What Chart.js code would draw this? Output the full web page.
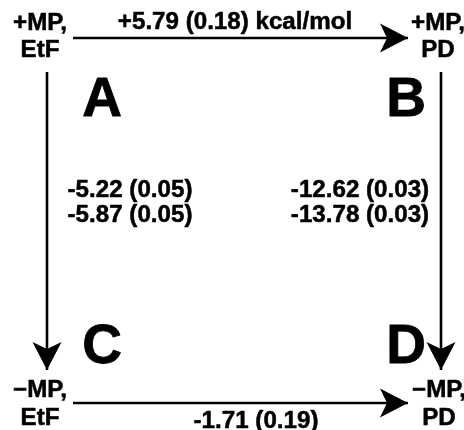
<!DOCTYPE html>
<html>
<head>
<meta charset="utf-8">
<script src="https://cdn.jsdelivr.net/npm/chart.js@4/dist/chart.umd.min.js"></script>
<style>
  html, body { margin: 0; padding: 0; background: #fff; }
  #wrap { width: 464px; height: 430px; }
</style>
</head>
<body>
<div id="wrap"><canvas id="c" width="464" height="430"></canvas></div>
<script>
// ---- data ----
const stateLine1 = ['+MP,', '+MP,', '\u2212MP,', '\u2212MP,'];
const stateLine2 = ['EtF', 'PD', 'EtF', 'PD'];
const cornerLetters = ['A', 'B', 'C', 'D'];
const edgeFrom = [0, 0, 1, 2];
const edgeTo = [1, 2, 3, 3];
const edgeValue1 = [5.79, -5.22, -12.62, -1.71];
const edgeError1 = [0.18, 0.05, 0.03, 0.19];
const edgeValue2 = [null, -5.87, -13.78, null];
const edgeError2 = [null, 0.05, 0.03, null];
const edgeUnit = [' kcal/mol', '', '', ''];

// ---- layout (drawing space in axis units) ----
const L = {
  stateX: [40, 438, 40, 439],
  stateY1: [30, 30, 397, 397],
  stateY2: [57, 57, 425, 425],
  letterX: [102, 406, 102, 406],
  letterY: [116, 116, 363, 363],
  arrowStart: [[73, 38], [47, 72], [441, 72], [73, 403]],
  arrowEnd: [[408, 38], [47, 370], [441, 370], [408, 403]],
  labelX: [235, 130, 360, 256],
  labelY: [29, 197, 197, 428],
  lineGap: 25
};

function fmt(v, e) {
  const s = (v > 0 ? '+' : '') + v.toFixed(2);
  return s + ' (' + e.toFixed(2) + ')';
}

const datasets = edgeFrom.map((f, i) => ({
  label: cornerLetters[f] + '\u2192' + cornerLetters[edgeTo[i]],
  data: [
    { x: L.arrowStart[i][0], y: L.arrowStart[i][1] },
    { x: L.arrowEnd[i][0], y: L.arrowEnd[i][1] }
  ],
  showLine: true,
  borderColor: '#000',
  borderWidth: 2.6,
  pointRadius: 0,
  fill: false
}));

const SMALL = 'bold 23px "Liberation Sans", Arial, sans-serif';
const BIG = 'bold 55px "Liberation Sans", Arial, sans-serif';
const STRETCH = 1.05;

function txt(ctx, s, x, y, font, stretch, stroke) {
  ctx.save();
  ctx.font = font;
  ctx.textAlign = 'center';
  ctx.textBaseline = 'alphabetic';
  ctx.fillStyle = '#000';
  ctx.strokeStyle = '#000';
  ctx.translate(x, y);
  ctx.scale(stretch, 1);
  ctx.fillText(s, 0, 0);
  if (stroke) { ctx.lineWidth = stroke; ctx.lineJoin = 'round'; ctx.strokeText(s, 0, 0); }
  ctx.restore();
}

const diagramPlugin = {
  id: 'diagram',
  afterDatasetsDraw(chart) {
    const ctx = chart.ctx;
    const xs = chart.scales.x, ys = chart.scales.y;
    const px = v => xs.getPixelForValue(v);
    const py = v => ys.getPixelForValue(v);
    // arrowheads at the end of every edge line
    chart.data.datasets.forEach((ds, i) => {
      const pts = chart.getDatasetMeta(i).data;
      const a = pts[0], b = pts[1];
      const ang = Math.atan2(b.y - a.y, b.x - a.x);
      const len = 28, half = 14.5, notch = 21;
      ctx.save();
      ctx.translate(b.x, b.y);
      ctx.rotate(ang);
      ctx.beginPath();
      ctx.moveTo(0, 0);
      ctx.lineTo(-len, -half);
      ctx.lineTo(-notch, 0);
      ctx.lineTo(-len, half);
      ctx.closePath();
      ctx.fillStyle = '#000';
      ctx.fill();
      ctx.restore();
    });
    // state labels
    for (let i = 0; i < 4; i++) {
      txt(ctx, stateLine1[i], px(L.stateX[i]), py(L.stateY1[i]), SMALL, STRETCH, 0.5);
      txt(ctx, stateLine2[i], px(L.stateX[i]), py(L.stateY2[i]), SMALL, STRETCH, 0.5);
      txt(ctx, cornerLetters[i], px(L.letterX[i]), py(L.letterY[i]), BIG, 1, 0.8);
    }
    // edge labels
    for (let i = 0; i < edgeValue1.length; i++) {
      txt(ctx, fmt(edgeValue1[i], edgeError1[i]) + edgeUnit[i], px(L.labelX[i]), py(L.labelY[i]), SMALL, STRETCH, 0.5);
      if (edgeValue2[i] !== null) {
        txt(ctx, fmt(edgeValue2[i], edgeError2[i]), px(L.labelX[i]), py(L.labelY[i] + L.lineGap), SMALL, STRETCH, 0.5);
      }
    }
  }
};

new Chart(document.getElementById('c'), {
  type: 'scatter',
  data: { datasets },
  options: {
    responsive: false,
    animation: false,
    layout: { padding: 0 },
    plugins: { legend: { display: false }, tooltip: { enabled: false } },
    scales: {
      x: { type: 'linear', min: 0, max: 464, display: false },
      y: { type: 'linear', min: 0, max: 430, reverse: true, display: false }
    }
  },
  plugins: [diagramPlugin]
});
</script>
</body>
</html>
